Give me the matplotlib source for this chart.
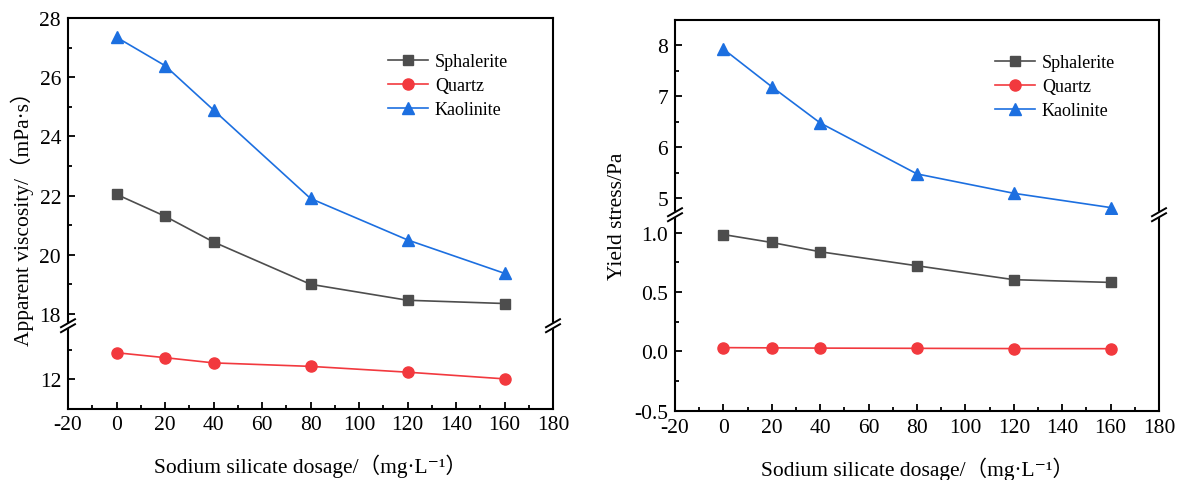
import matplotlib
matplotlib.use("Agg")
import matplotlib.pyplot as plt
from matplotlib.lines import Line2D
from matplotlib.ticker import MultipleLocator, FormatStrFormatter

plt.rcParams["font.family"] = ["Liberation Serif", "DejaVu Serif", "Noto Sans CJK SC"]
plt.rcParams["axes.unicode_minus"] = False

# sodium silicate dosage, mg/L
dosage = [0, 20, 40, 80, 120, 160]

# apparent viscosity, mPa·s
visc_sphalerite = [22.04, 21.30, 20.43, 19.00, 18.46, 18.35]
visc_quartz = [12.92, 12.75, 12.57, 12.45, 12.25, 12.02]
visc_kaolinite = [27.35, 26.39, 24.89, 21.90, 20.50, 19.37]

# yield stress, Pa
ys_sphalerite = [0.983, 0.916, 0.838, 0.72, 0.603, 0.58]
ys_quartz = [0.031, 0.029, 0.027, 0.025, 0.023, 0.022]
ys_kaolinite = [7.93, 7.19, 6.48, 5.48, 5.10, 4.82]

names = ["Sphalerite", "Quartz", "Kaolinite"]
styles = {
    "Sphalerite": dict(color="#4d4d4d", marker="s", markersize=7),
    "Quartz": dict(color="#f2393e", marker="o", markersize=8),
    "Kaolinite": dict(color="#1c6fe0", marker="^", markersize=9),
}

W, H = 1182, 481
fig = plt.figure(figsize=(W / 100, H / 100), dpi=100)


def rect(x0, y0, x1, y1):
    # pixel box (top-left origin) -> figure fraction
    return [x0 / W, 1 - y1 / H, (x1 - x0) / W, (y1 - y0) / H]


def style_axes(ax):
    for s in ax.spines.values():
        s.set_linewidth(1.5)
    ax.tick_params(which="both", direction="in", top=False, right=False,
                   labelsize=15.5, width=1.3, pad=5)
    ax.tick_params(which="major", length=5)
    ax.tick_params(which="minor", length=3)


def broken_panel(x0, x1, y_top, y_break, y_bot, upper_lim, lower_lim, series,
                 up_major, up_minor, lo_major, lo_minor, fmt, ylabel, ylab_x,
                 leg_xy):
    up = fig.add_axes(rect(x0, y_top, x1, y_break))
    lo = fig.add_axes(rect(x0, y_break, x1, y_bot))
    for ax in (up, lo):
        for name, vals in zip(names, series):
            st = styles[name]
            ax.plot(dosage, vals, color=st["color"], lw=1.2, marker=st["marker"],
                    markersize=st["markersize"], markerfacecolor=st["color"],
                    markeredgecolor=st["color"], label=name)
        ax.set_xlim(-20, 180)
        style_axes(ax)
    up.set_ylim(*upper_lim)
    lo.set_ylim(*lower_lim)
    up.spines["bottom"].set_visible(False)
    lo.spines["top"].set_visible(False)
    up.tick_params(axis="x", which="both", bottom=False, labelbottom=False)
    lo.xaxis.set_major_locator(MultipleLocator(20))
    lo.xaxis.set_minor_locator(MultipleLocator(10))
    up.yaxis.set_major_locator(MultipleLocator(up_major))
    up.yaxis.set_minor_locator(MultipleLocator(up_minor))
    lo.yaxis.set_major_locator(MultipleLocator(lo_major))
    lo.yaxis.set_minor_locator(MultipleLocator(lo_minor))
    up.yaxis.set_major_formatter(FormatStrFormatter(fmt[0]))
    lo.yaxis.set_major_formatter(FormatStrFormatter(fmt[1]))

    lo.set_xlabel("Sodium silicate dosage/（mg·L⁻¹）", fontsize=15.5, labelpad=14)
    fig.text(ylab_x / W, 1 - ((y_top + y_bot) / 2) / H, ylabel, fontsize=15.5,
             rotation=90, ha="center", va="center")

    handles, labels = up.get_legend_handles_labels()
    fig.legend(handles, labels, loc="upper left",
               bbox_to_anchor=(leg_xy[0] / W, 1 - leg_xy[1] / H),
               frameon=False, fontsize=13, handlelength=2.2, handletextpad=0.4,
               labelspacing=0.4, borderpad=0, borderaxespad=0)

    # break marks on both vertical spines
    for xs in (x0, x1):
        yb = y_break
        band = Line2D([(xs - 6) / W, (xs + 6) / W],
                      [1 - (yb + 3.5) / H, 1 - (yb - 3.5) / H],
                      transform=fig.transFigure, color="white", lw=4,
                      solid_capstyle="butt")
        fig.add_artist(band)
        for dy in (-2.5, 2.5):
            ln = Line2D([(xs - 7) / W, (xs + 7) / W],
                        [1 - (yb + dy + 4) / H, 1 - (yb + dy - 4) / H],
                        transform=fig.transFigure, color="black", lw=1.4)
            fig.add_artist(ln)
    return up, lo


broken_panel(68, 553, 19, 326.7, 409.5, (17.6, 28), (11, 13.85),
             [visc_sphalerite, visc_quartz, visc_kaolinite],
             2, 1, 2, 1, ("%d", "%d"), "Apparent viscosity/（mPa·s）", 22,
             (388, 54))

broken_panel(675, 1159, 21, 215.7, 411.7, (4.68, 8.5), (-0.5, 1.15),
             [ys_sphalerite, ys_quartz, ys_kaolinite],
             1, 0.5, 0.5, 0.25, ("%d", "%.1f"), "Yield stress/Pa", 617,
             (995, 55))

fig.savefig("out.png", dpi=100)
